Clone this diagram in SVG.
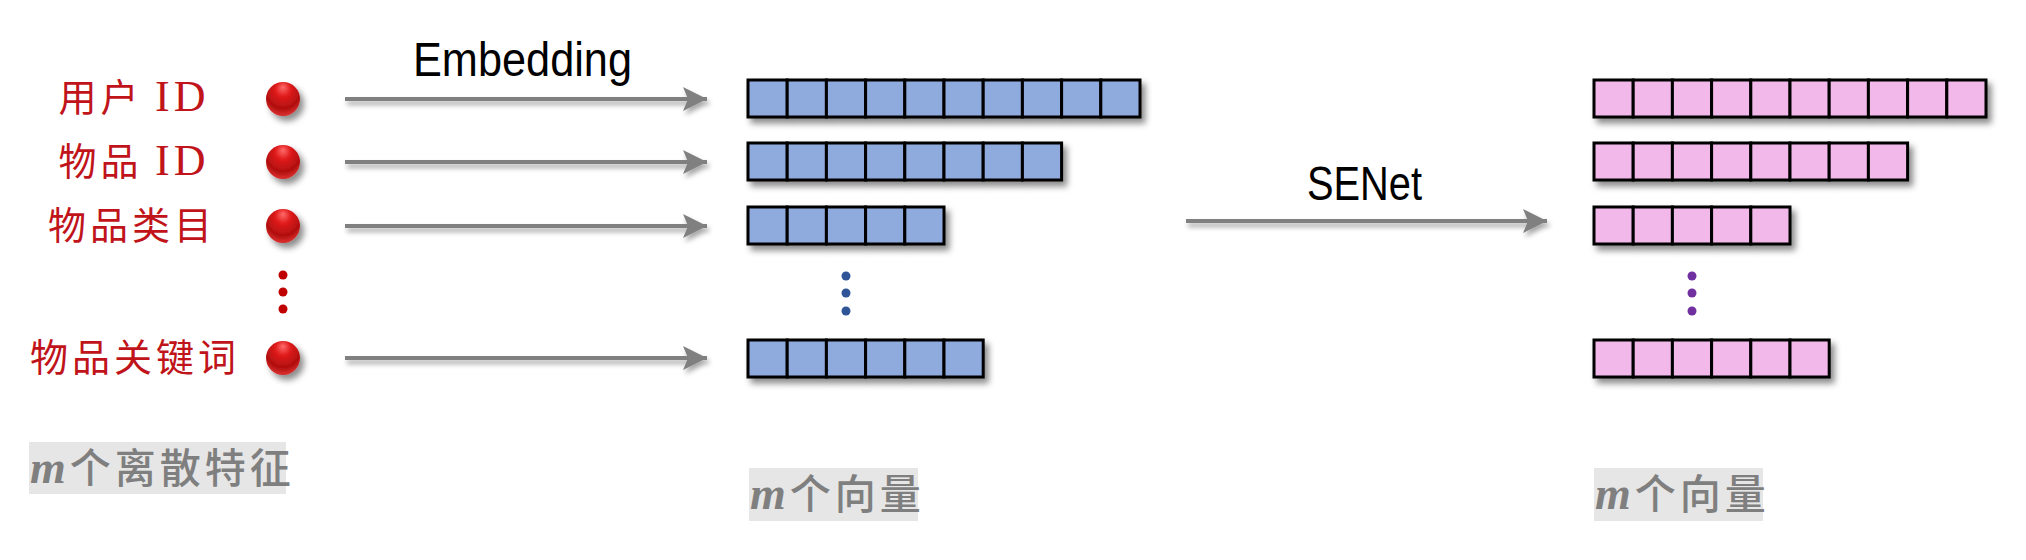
<svg xmlns="http://www.w3.org/2000/svg" width="2026" height="560" viewBox="0 0 2026 560">
<defs>
<style>
.lbl{font-family:"Noto Sans CJK SC","Noto Sans",sans-serif;font-size:38px;fill:#c0141a;letter-spacing:4px;text-anchor:middle}
.id{font-family:"Liberation Serif",serif;font-size:44px}
.title{font-family:"Liberation Sans","DejaVu Sans",sans-serif;font-size:48px;fill:#000}
.cap{font-family:"Noto Sans CJK SC",sans-serif;font-size:41px;fill:#7f7f7f;letter-spacing:4px;font-weight:500}
.m{font-family:"Liberation Serif",serif;font-style:italic;font-size:46px;font-weight:bold}
.capbg{fill:#e6e6e6}
.blue rect{fill:#8faadc;stroke:#000;stroke-width:3}
.pink rect{fill:#f2b8ea;stroke:#000;stroke-width:3}
.conn line{stroke:#808080;stroke-width:4}
</style>
<radialGradient id="ball" cx="50%" cy="30%" r="65%" fx="50%" fy="15%">
<stop offset="0" stop-color="#ff6b6b"/>
<stop offset="0.35" stop-color="#e01b1b"/>
<stop offset="0.8" stop-color="#b00f0f"/>
<stop offset="1" stop-color="#d42a2a"/>
</radialGradient>
<filter id="sh" x="-20%" y="-40%" width="150%" height="200%">
<feDropShadow dx="4" dy="5" stdDeviation="3" flood-color="#000" flood-opacity="0.45"/>
</filter>
<filter id="ash" x="-5%" y="-200%" width="110%" height="500%">
<feDropShadow dx="2" dy="4" stdDeviation="2.5" flood-color="#000" flood-opacity="0.35"/>
</filter>
<marker id="ah" markerUnits="userSpaceOnUse" markerWidth="30" markerHeight="30" viewBox="0 0 30 30" refX="26" refY="15" orient="auto">
<path d="M2 3 L26 15 L2 27 L7 15 Z" fill="#808080"/>
</marker>
</defs>
<rect width="2026" height="560" fill="#fff"/>

<g id="features">
<text class="lbl" x="134" y="111">用户 <tspan class="id">ID</tspan></text>
<text class="lbl" x="134" y="175">物品 <tspan class="id">ID</tspan></text>
<text class="lbl" x="132" y="239">物品类目</text>
<text class="lbl" x="135" y="371">物品关键词</text>
</g>

<g id="balls" filter="url(#sh)">
<circle cx="283" cy="99" r="17" fill="url(#ball)"/>
<circle cx="283" cy="162" r="17" fill="url(#ball)"/>
<circle cx="283" cy="226" r="17" fill="url(#ball)"/>
<circle cx="283" cy="358" r="17" fill="url(#ball)"/>
</g>
<g id="red-dots" fill="#c00000">
<circle cx="283" cy="275" r="4.5"/><circle cx="283" cy="292" r="4.5"/><circle cx="283" cy="309" r="4.5"/>
</g>

<g id="connectors" class="conn" filter="url(#ash)">
<line x1="345" y1="99" x2="707" y2="99" marker-end="url(#ah)"/>
<line x1="345" y1="162" x2="707" y2="162" marker-end="url(#ah)"/>
<line x1="345" y1="226" x2="707" y2="226" marker-end="url(#ah)"/>
<line x1="345" y1="358" x2="707" y2="358" marker-end="url(#ah)"/>
<line x1="1186" y1="221" x2="1547" y2="221" marker-end="url(#ah)"/>
</g>
<text class="title" x="413" y="76" textLength="219" lengthAdjust="spacingAndGlyphs">Embedding</text>
<text class="title" x="1307" y="200" textLength="115" lengthAdjust="spacingAndGlyphs">SENet</text>

<g id="emb-vectors" class="blue">
<g filter="url(#sh)">
<rect x="748" y="80" width="39.2" height="37"/><rect x="787.2" y="80" width="39.2" height="37"/><rect x="826.4" y="80" width="39.2" height="37"/><rect x="865.6" y="80" width="39.2" height="37"/><rect x="904.8" y="80" width="39.2" height="37"/><rect x="944" y="80" width="39.2" height="37"/><rect x="983.2" y="80" width="39.2" height="37"/><rect x="1022.4" y="80" width="39.2" height="37"/><rect x="1061.6" y="80" width="39.2" height="37"/><rect x="1100.8" y="80" width="39.2" height="37"/>
</g>
<g filter="url(#sh)">
<rect x="748" y="143" width="39.2" height="37"/><rect x="787.2" y="143" width="39.2" height="37"/><rect x="826.4" y="143" width="39.2" height="37"/><rect x="865.6" y="143" width="39.2" height="37"/><rect x="904.8" y="143" width="39.2" height="37"/><rect x="944" y="143" width="39.2" height="37"/><rect x="983.2" y="143" width="39.2" height="37"/><rect x="1022.4" y="143" width="39.2" height="37"/>
</g>
<g filter="url(#sh)">
<rect x="748" y="207" width="39.2" height="37"/><rect x="787.2" y="207" width="39.2" height="37"/><rect x="826.4" y="207" width="39.2" height="37"/><rect x="865.6" y="207" width="39.2" height="37"/><rect x="904.8" y="207" width="39.2" height="37"/>
</g>
<g filter="url(#sh)">
<rect x="748" y="340" width="39.2" height="37"/><rect x="787.2" y="340" width="39.2" height="37"/><rect x="826.4" y="340" width="39.2" height="37"/><rect x="865.6" y="340" width="39.2" height="37"/><rect x="904.8" y="340" width="39.2" height="37"/><rect x="944" y="340" width="39.2" height="37"/>
</g>
</g>
<g id="blue-dots" fill="#2f5597">
<circle cx="846" cy="276" r="4.5"/><circle cx="846" cy="293" r="4.5"/><circle cx="846" cy="311" r="4.5"/>
</g>

<g id="senet-vectors" class="pink">
<g filter="url(#sh)">
<rect x="1594" y="80" width="39.2" height="37"/><rect x="1633.2" y="80" width="39.2" height="37"/><rect x="1672.4" y="80" width="39.2" height="37"/><rect x="1711.6" y="80" width="39.2" height="37"/><rect x="1750.8" y="80" width="39.2" height="37"/><rect x="1790" y="80" width="39.2" height="37"/><rect x="1829.2" y="80" width="39.2" height="37"/><rect x="1868.4" y="80" width="39.2" height="37"/><rect x="1907.6" y="80" width="39.2" height="37"/><rect x="1946.8" y="80" width="39.2" height="37"/>
</g>
<g filter="url(#sh)">
<rect x="1594" y="143" width="39.2" height="37"/><rect x="1633.2" y="143" width="39.2" height="37"/><rect x="1672.4" y="143" width="39.2" height="37"/><rect x="1711.6" y="143" width="39.2" height="37"/><rect x="1750.8" y="143" width="39.2" height="37"/><rect x="1790" y="143" width="39.2" height="37"/><rect x="1829.2" y="143" width="39.2" height="37"/><rect x="1868.4" y="143" width="39.2" height="37"/>
</g>
<g filter="url(#sh)">
<rect x="1594" y="207" width="39.2" height="37"/><rect x="1633.2" y="207" width="39.2" height="37"/><rect x="1672.4" y="207" width="39.2" height="37"/><rect x="1711.6" y="207" width="39.2" height="37"/><rect x="1750.8" y="207" width="39.2" height="37"/>
</g>
<g filter="url(#sh)">
<rect x="1594" y="340" width="39.2" height="37"/><rect x="1633.2" y="340" width="39.2" height="37"/><rect x="1672.4" y="340" width="39.2" height="37"/><rect x="1711.6" y="340" width="39.2" height="37"/><rect x="1750.8" y="340" width="39.2" height="37"/><rect x="1790" y="340" width="39.2" height="37"/>
</g>
</g>
<g id="purple-dots" fill="#7030a0">
<circle cx="1692" cy="276" r="4.5"/><circle cx="1692" cy="293" r="4.5"/><circle cx="1692" cy="311" r="4.5"/>
</g>

<g id="caption-features">
<rect class="capbg" x="29" y="442" width="257" height="52"/>
<text class="cap" x="30" y="483"><tspan class="m">m</tspan>个离散特征</text>
</g>
<g id="caption-emb">
<rect class="capbg" x="749" y="468" width="169" height="53"/>
<text class="cap" x="750" y="509"><tspan class="m">m</tspan>个向量</text>
</g>
<g id="caption-senet">
<rect class="capbg" x="1594" y="468" width="169" height="53"/>
<text class="cap" x="1595" y="509"><tspan class="m">m</tspan>个向量</text>
</g>
</svg>
